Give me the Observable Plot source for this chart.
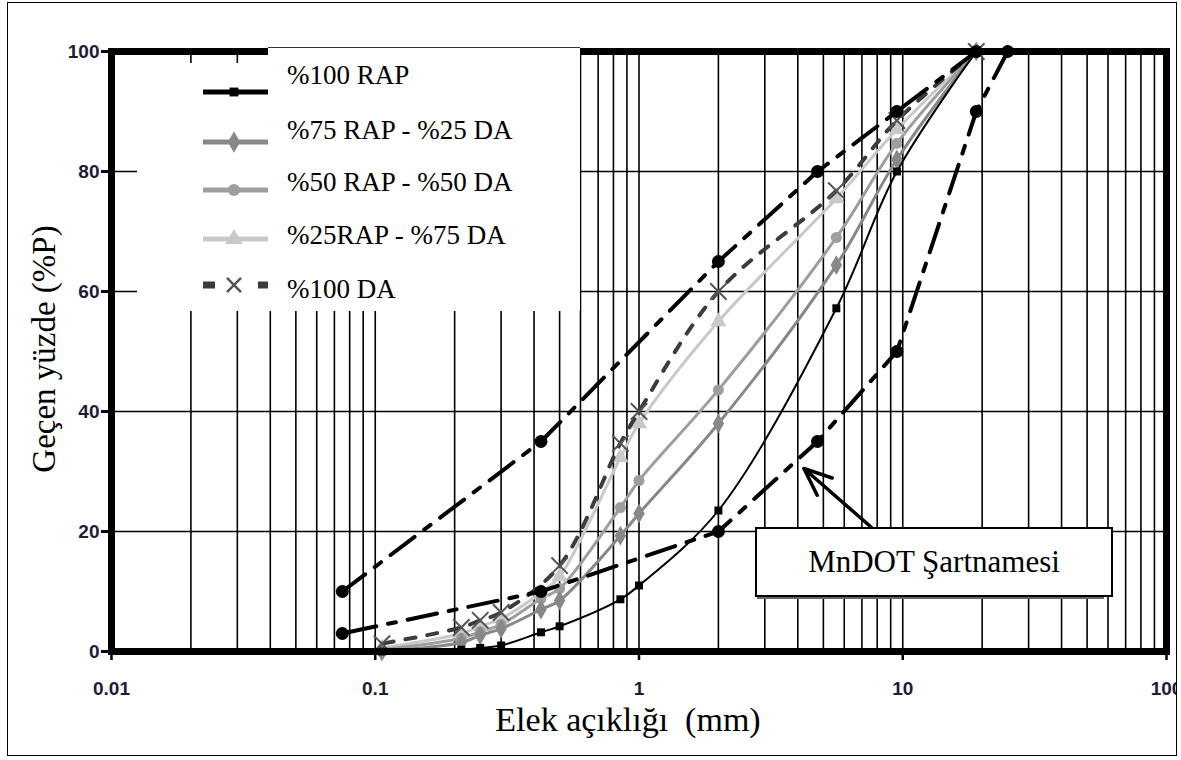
<!DOCTYPE html>
<html>
<head>
<meta charset="utf-8">
<script src="https://cdn.jsdelivr.net/npm/d3@7"></script>
<script src="https://cdn.jsdelivr.net/npm/@observablehq/plot@0.6"></script>
<style>
  body { margin: 0; background: #fff; }
  #page { position: relative; width: 1181px; height: 760px; background: #fff; overflow: hidden; }
  #frame { position: absolute; left: 7px; top: 2px; width: 1170px; height: 754px; border: 1px solid #000; box-sizing: border-box; overflow: hidden; }
  #inner { position: absolute; left: -8px; top: -3px; width: 1181px; height: 760px; }
  #inner > svg { position: absolute; left: 0; top: 0; }
  g[aria-label="x-axis tick label"], g[aria-label="y-axis tick label"] {
    font: bold 19px "Liberation Sans", Arial, sans-serif; fill: #1c1c3a;
  }
  .serif { font-family: "Liberation Serif", "Times New Roman", serif; color: #000; }
  #xtitle { position: absolute; left: 328px; width: 600px; top: 700px; text-align: center; font-size: 34px; line-height: 40px; white-space: pre; }
  #ytitle { position: absolute; left: 44px; top: 349px; transform: translate(-50%, -50%) rotate(-90deg); font-size: 33px; line-height: 38px; white-space: pre; }
  #note { position: absolute; left: 755px; top: 527px; width: 358px; height: 70px; box-sizing: border-box; border: 2.5px solid #000; background: #fff; font-size: 31px; display: flex; align-items: center; justify-content: center; }
  #noteShadow { position: absolute; left: 757px; top: 597px; width: 347px; height: 2px; background: #666; }
  #legend { position: absolute; left: 0; top: 0; }
</style>
</head>
<body>
<div id="page"><div id="frame"><div id="inner"></div></div></div>
<script>
// ---- data ----
const sieves = [19, 9.5, 5.6, 2, 1, 0.85, 0.5, 0.425, 0.3, 0.25, 0.212, 0.106];
const rap100 = [100, 80, 57.2, 23.5, 11, 8.7, 4.2, 3.2, 1.0, 0.6, 0.3, 0];
const rap75  = [100, 82, 64.4, 38, 23, 19.3, 8.5, 7, 3.8, 2.7, 1.5, 0];
const rap50  = [100, 84.7, 69, 43.6, 28.5, 24, 10.5, 8.8, 4.5, 3.3, 2.2, 0.3];
const rap25  = [100, 87, 75.5, 55, 38, 32.3, 12.5, 9.8, 5.5, 4.2, 3, 0.6];
const sievesDA = [19, 9.5, 5.6, 2, 1, 0.85, 0.5, 0.3, 0.25, 0.212, 0.106];
const da100    = [100, 88.5, 76.8, 60, 40, 34.7, 14.3, 6.5, 5.2, 4, 1.3];
const specUpperSieves = [19, 9.5, 4.75, 2, 0.425, 0.075];
const specUpper       = [100, 90, 80, 65, 35, 10];
const specLowerSieves = [25, 19, 9.5, 4.75, 2, 0.425, 0.075];
const specLower       = [100, 90, 50, 35, 20, 10, 3];
const seriesNames = ["%100 RAP", "%75 RAP - %25 DA", "%50 RAP - %50 DA", "%25RAP - %75 DA", "%100 DA"];
const noteText = "MnDOT Şartnamesi";
const noteArrow = [{x1: 7.6, y1: 20.7, x2: 4.22, y2: 30.5}];
const xTicks = [0.01, 0.1, 1, 10, 100];
const xTickLabels = ["0.01", "0.1", "1", "10", "100"];
const yTicks = [0, 20, 40, 60, 80, 100];
const yGrid = [20, 40, 60, 80];
const xTitle = "Elek açıklığı  (mm)";
const yTitle = "Geçen yüzde (%P)";

// ---- build tables ----
const rows = (xs, ys) => xs.map((s, i) => ({s, v: ys[i]}));
const tRap100 = rows(sieves, rap100);
const tRap75 = rows(sieves, rap75);
const tRap50 = rows(sieves, rap50);
const tRap25 = rows(sieves, rap25);
const tDA = rows(sievesDA, da100);
const tUp = rows(specUpperSieves, specUpper);
const tLo = rows(specLowerSieves, specLower);
const xGrid = d3.scaleLog().domain([0.01, 100]).ticks().filter(d => d > 0.01 && d < 100);

const st = {
  r100: {stroke: "#000", w: 2, sym: "square", r: 4.5},
  r75: {stroke: "#888", w: 3, sym: "diamond", r: 6},
  r50: {stroke: "#9e9e9e", w: 3, sym: "circle", r: 5.5},
  r25: {stroke: "#c9c9c9", w: 3, sym: "triangle", r: 6},
  da: {stroke: "#3c3c3c", w: 4, dash: "10,12"}
};
const xy = {x: "s", y: "v"};

const chart = Plot.plot({
  width: 1181, height: 760,
  marginLeft: 111, marginRight: 15, marginTop: 51, marginBottom: 109,
  x: {type: "log", domain: [0.01, 100]},
  y: {domain: [0, 100]},
  marks: [
    Plot.ruleX(xGrid, {stroke: "#000", strokeWidth: 1.6}),
    Plot.ruleY(yGrid, {stroke: "#000", strokeWidth: 1.6}),
    Plot.line(tRap25, {...xy, stroke: st.r25.stroke, strokeWidth: st.r25.w, curve: "catmull-rom"}),
    Plot.line(tRap50, {...xy, stroke: st.r50.stroke, strokeWidth: st.r50.w, curve: "catmull-rom"}),
    Plot.line(tRap75, {...xy, stroke: st.r75.stroke, strokeWidth: st.r75.w, curve: "catmull-rom"}),
    Plot.line(tRap100, {...xy, stroke: st.r100.stroke, strokeWidth: st.r100.w, curve: "catmull-rom"}),
    Plot.dot(tRap25, {...xy, symbol: st.r25.sym, r: st.r25.r, fill: st.r25.stroke}),
    Plot.dot(tRap50, {...xy, symbol: st.r50.sym, r: st.r50.r, fill: st.r50.stroke}),
    Plot.dot(tRap75, {...xy, symbol: st.r75.sym, r: st.r75.r, fill: st.r75.stroke}),
    Plot.dot(tRap100, {...xy, symbol: st.r100.sym, r: st.r100.r, fill: st.r100.stroke}),
    Plot.line(tDA, {...xy, stroke: st.da.stroke, strokeWidth: st.da.w, strokeDasharray: st.da.dash, curve: "catmull-rom"}),
    Plot.dot(tDA, {...xy, symbol: "times", r: 7.5, stroke: "#555", strokeWidth: 2}),
    Plot.line(tUp, {...xy, stroke: "#000", strokeWidth: 4, strokeDasharray: "30,12,8,12"}),
    Plot.line(tLo, {...xy, stroke: "#000", strokeWidth: 4, strokeDasharray: "30,12,8,12"}),
    Plot.dot(tUp, {...xy, r: 6.5, fill: "#000"}),
    Plot.dot(tLo, {...xy, r: 6.5, fill: "#000"}),
    Plot.frame({stroke: "#000", strokeWidth: 7}),
    Plot.axisX(xTicks, {tickFormat: d => xTickLabels[xTicks.indexOf(d)], tickSize: 9, tickPadding: 21, strokeWidth: 2.5, label: null}),
    Plot.axisY(yTicks, {tickSize: 10, tickPadding: 2, strokeWidth: 3, label: null}),
    Plot.arrow(noteArrow, {x1: "x1", y1: "y1", x2: "x2", y2: "y2", stroke: "#000", strokeWidth: 3.5, headLength: 18, headAngle: 45})
  ]
});
const inner = document.getElementById("inner");
inner.appendChild(chart);

// ---- legend overlay ----
const lg = d3.create("svg").attr("id", "legend").attr("width", 1181).attr("height", 760);
lg.append("rect").attr("x", 137).attr("y", 63).attr("width", 132).attr("height", 248).attr("fill", "#fff");
lg.append("rect").attr("x", 268).attr("y", 48).attr("width", 312).attr("height", 263).attr("fill", "#fff");
lg.append("line").attr("x1", 268).attr("x2", 580).attr("y1", 47.5).attr("y2", 47.5).attr("stroke", "#333").attr("stroke-width", 1);
const legendItems = [
  {name: seriesNames[0], s: st.r100, ly: 92, ty: 84},
  {name: seriesNames[1], s: st.r75, ly: 142, ty: 139},
  {name: seriesNames[2], s: st.r50, ly: 190, ty: 191},
  {name: seriesNames[3], s: st.r25, ly: 239, ty: 244},
  {name: seriesNames[4], s: st.da, ly: 285, ty: 298, da: true}
];
const symMap = {square: d3.symbolSquare, diamond: d3.symbolDiamond, circle: d3.symbolCircle, triangle: d3.symbolTriangle};
for (const it of legendItems) {
  const ln = lg.append("line").attr("x1", 203).attr("x2", 268).attr("y1", it.ly).attr("y2", it.ly)
    .attr("stroke", it.s.stroke).attr("stroke-width", it.da ? 7 : 5);
  if (it.da) {
    ln.attr("stroke-dasharray", "12,43");
    lg.append("path").attr("d", d3.symbol(d3.symbolTimes, 130)()).attr("transform", `translate(234,${it.ly})`)
      .attr("fill", "none").attr("stroke", "#555").attr("stroke-width", 2.5);
  } else {
    const r = it.s.r + 0.5;
    lg.append("path").attr("d", d3.symbol(symMap[it.s.sym], Math.PI * r * r)()).attr("transform", `translate(234,${it.ly})`)
      .attr("fill", it.s.stroke);
  }
  lg.append("text").attr("x", 287).attr("y", it.ty)
    .style("font-family", '"Liberation Serif", "Times New Roman", serif')
    .style("font-size", "27px").attr("fill", "#000").text(it.name);
}
inner.appendChild(lg.node());

// ---- annotation box & titles ----
const shadow = document.createElement("div"); shadow.id = "noteShadow"; inner.appendChild(shadow);
const note = document.createElement("div"); note.id = "note"; note.className = "serif"; note.textContent = noteText; inner.appendChild(note);
const xt = document.createElement("div"); xt.id = "xtitle"; xt.className = "serif"; xt.textContent = xTitle; inner.appendChild(xt);
const yt = document.createElement("div"); yt.id = "ytitle"; yt.className = "serif"; yt.textContent = yTitle; inner.appendChild(yt);
</script>
</body>
</html>
